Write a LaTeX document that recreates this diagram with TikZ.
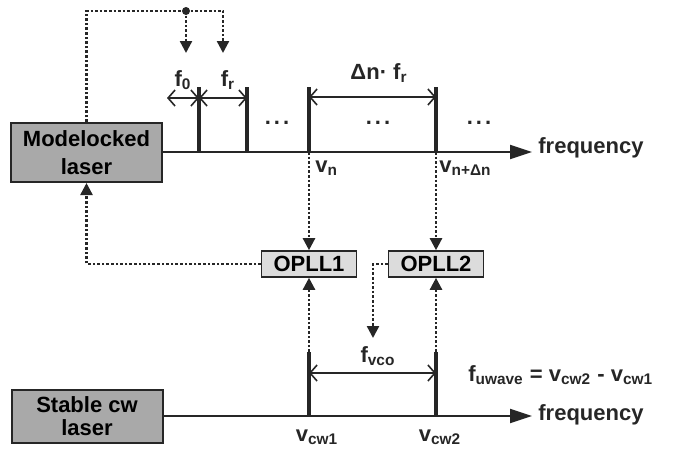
\documentclass[tikz,border=0pt]{standalone}
\usepackage{fontspec}
\setmainfont{Liberation Sans}
\usetikzlibrary{arrows.meta,positioning,calc}
\definecolor{lgray}{HTML}{A9A9A9}
\definecolor{pgray}{HTML}{DCDCDC}
\definecolor{ink}{HTML}{262626}
\tikzset{
  laser/.style={draw=ink,fill=lgray,line width=1pt,align=center,inner sep=2pt,minimum width=75.5pt},
  opll/.style={draw=ink,fill=pgray,line width=0.8pt,minimum width=47.5pt,minimum height=13pt,inner sep=1pt},
  axis/.style={-{Triangle[length=11pt,width=7pt]},line width=1pt,draw=ink},
  comb/.style={line width=2pt,draw=ink},
  span/.style={{Straight Barb[length=3.5pt,width=8pt]}-{Straight Barb[length=3.5pt,width=8pt]},line width=0.8pt,draw=ink},
  fb/.style={draw=ink,line width=1.2pt,dash pattern=on 1.3pt off 1pt},
  fbarr/.style={fb,-{Triangle[length=6pt,width=6pt]}},
  lbl/.style={text=ink,inner sep=0pt},
}

\begin{document}
\begin{tikzpicture}[x=0.5pt,y=-0.5pt,font=\bfseries\fontsize{11}{14}\selectfont]
\useasboundingbox (0,0) rectangle (681,450);
\node[laser, minimum height=29.5pt] (mll) at (86.5,152.5) {Modelocked\\laser};
\node[laser, minimum height=26.5pt] (scw) at (87,416.5) {Stable cw\\[-2.5pt]laser};
\node[opll] (opll1) at (309,264) {OPLL1};
\node[opll] (opll2) at (436,264) {OPLL2};
\coordinate (ftop) at (532,152);
\coordinate (fbot) at (532,416);
\draw[axis] (mll.east |- ftop) -- (ftop);
\draw[axis] (scw.east |- fbot) -- (fbot);
\node[lbl, anchor=west] (freqtop) at (538,148) {frequency};
\node[lbl, anchor=west] (freqbot) at (538,415) {frequency};
\foreach \x/\n in {199/ca, 247/cb, 309/cn, 436/cm}{
  \coordinate (\n) at (\x,152);
  \coordinate (top\n) at (\x,87);
  \draw[comb] (\n) -- (top\n);
}
\foreach \x/\n in {309/cwa, 436/cwb}{
  \coordinate (\n) at (\x,416);
  \coordinate (top\n) at (\x,352);
  \draw[comb] (\n) -- (top\n);
}
\coordinate (f0l) at (167,98);
\draw[span] (f0l) -- (f0l -| ca);
\draw[span] (f0l -| ca) -- (f0l -| cb);
\coordinate (dnl) at (309,97);
\draw[span] (dnl) -- (dnl -| cm);
\coordinate (vcol) at (309,373);
\draw[span] (vcol) -- (vcol -| cwb);
\node[lbl] (f0) at (183,80) {f\textsubscript{0}};
\node[lbl] (fr) at (228,80) {f\textsubscript{r}};
\node[lbl] (dnfr) at (379,73) {Δn· f\textsubscript{r}};
\node[lbl] (dotsa) at (277,123) {.\hspace{1.5pt}.\hspace{1.5pt}.};
\node[lbl] (dotsb) at (378,123) {.\hspace{1.5pt}.\hspace{1.5pt}.};
\node[lbl] (dotsc) at (479,123) {.\hspace{1.5pt}.\hspace{1.5pt}.};
\node[lbl, anchor=west] (vn) at (315,168) {v\textsubscript{n}};
\node[lbl, anchor=west] (vnd) at (439,168) {v\textsubscript{n+Δn}};
\node[lbl] (vcwa) at (317,437) {v\textsubscript{cw1}};
\node[lbl] (vcwb) at (440,437) {v\textsubscript{cw2}};
\node[lbl] (fvco) at (378,356) {f\textsubscript{vco}};
\node[lbl, anchor=west] (fuw) at (468,375) {f\textsubscript{uwave} = v\textsubscript{cw2} - v\textsubscript{cw1}};
\coordinate (junc) at (186,11);
\coordinate (tf0) at (186,53);
\coordinate (tfr) at (223,53);
\draw[fb] (mll.north) |- (junc);
\draw[fbarr] (junc) -| (tfr);
\draw[fbarr] (junc) -- (tf0);
\fill[ink] (junc) circle (2pt);
\draw[fbarr] (cn) -- (opll1.north);
\draw[fbarr] (cm) -- (opll2.north);
\draw[fbarr] (topcwa) -- (opll1.south);
\draw[fbarr] (topcwb) -- (opll2.south);
\draw[fbarr] (opll1.west) -| (mll.south);
\coordinate (tvco) at (373,338);
\draw[fbarr] (opll2.west) -| (tvco);
\end{tikzpicture}
\end{document}
